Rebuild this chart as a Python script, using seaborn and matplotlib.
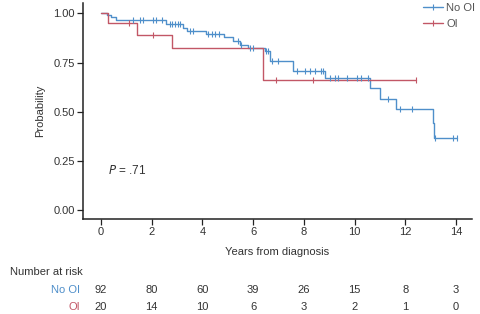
import numpy as np
import pandas as pd
import matplotlib
matplotlib.use("Agg")
import matplotlib.pyplot as plt
import seaborn as sns
from matplotlib.lines import Line2D
from matplotlib.transforms import blended_transform_factory

# ---- data ----
no_oi_times = [0, 0.25, 0.4, 0.6, 2.55, 3.25, 3.4, 4.15, 4.85, 5.2, 5.5, 5.8, 6.45, 6.68,
               7.57, 8.83, 10.6, 11.0, 11.65, 13.08, 13.15]
no_oi_surv = [1.00, 0.99, 0.98, 0.965, 0.945, 0.928, 0.912, 0.897, 0.88, 0.858, 0.838, 0.822,
              0.807, 0.758, 0.705, 0.672, 0.62, 0.567, 0.516, 0.44, 0.367]
no_oi_end = 14.02
no_oi_censor = [1.26, 1.54, 1.66, 2.05, 2.17, 2.41, 2.72, 2.80, 2.92, 3.04, 3.12, 3.51, 3.63,
                4.22, 4.38, 4.50, 4.65, 5.40, 5.52, 5.88, 6.0, 6.50, 6.59, 6.74, 6.98, 7.73,
                8.04, 8.24, 8.44, 8.68, 8.75, 9.03, 9.23, 9.35, 9.70, 10.09, 10.25, 10.53,
                11.32, 11.79, 12.26, 13.17, 13.88, 14.02]

oi_times = [0, 0.28, 1.42, 2.8, 6.4]
oi_surv = [1.00, 0.95, 0.892, 0.824, 0.66]
oi_end = 12.42
oi_censor = [1.10, 2.05, 6.9, 8.36, 12.42]

groups = ["No OI", "OI"]
risk_times = [0, 2, 4, 6, 8, 10, 12, 14]
risk_no_oi = [92, 80, 60, 39, 26, 15, 8, 3]
risk_oi = [20, 14, 10, 6, 3, 2, 1, 0]
p_text = "$P$ = .71"

colors = {"No OI": "#4f8fca", "OI": "#c25766"}

# ---- build frames ----
def steps(times, surv, end, name):
    return pd.DataFrame({"time": list(times) + [end], "surv": list(surv) + [surv[-1]], "group": name})

def censor_frame(ct, times, surv, name):
    t = np.array(times)
    s = np.array(surv)
    ys = [s[np.searchsorted(t, c, side="right") - 1] for c in ct]
    return pd.DataFrame({"time": ct, "surv": ys, "group": name})

curves = pd.concat([steps(no_oi_times, no_oi_surv, no_oi_end, "No OI"),
                    steps(oi_times, oi_surv, oi_end, "OI")])
cens = pd.concat([censor_frame(no_oi_censor, no_oi_times, no_oi_surv, "No OI"),
                  censor_frame(oi_censor, oi_times, oi_surv, "OI")])

sns.set_theme(style="ticks")
plt.rcParams["font.family"] = ["Liberation Sans", "DejaVu Sans"]
text_c = "#333333"

fig = plt.figure(figsize=(4.81, 3.14), dpi=100)
ax = fig.add_axes([83 / 481, 95 / 314, (472 - 83) / 481, (311 - 95) / 314])

for g in groups:
    sub = curves[curves.group == g]
    sns.lineplot(data=sub, x="time", y="surv", drawstyle="steps-post", color=colors[g],
                 estimator=None, sort=False, lw=1.0, ax=ax, legend=False)
    csub = cens[cens.group == g]
    sns.scatterplot(data=csub, x="time", y="surv", marker="|", s=22, linewidth=0.8,
                    color=colors[g], ax=ax, legend=False, zorder=3)

ax.set_xlim(-0.71, 14.63)
ax.set_ylim(-0.046, 1.053)
ax.set_xticks(risk_times)
ax.set_yticks([0, 0.25, 0.5, 0.75, 1.0])
ax.set_yticklabels(["0.00", "0.25", "0.50", "0.75", "1.00"])
ax.tick_params(axis="both", labelsize=8, length=4, width=0.9, colors="#222222",
               labelcolor=text_c, pad=2)
for sp in ["left", "bottom"]:
    ax.spines[sp].set_linewidth(1.1)
    ax.spines[sp].set_color("#222222")
sns.despine(ax=ax)
ax.set_xlabel("Years from diagnosis", fontsize=8, color=text_c, labelpad=7)
ax.set_ylabel("Probability", fontsize=8, color=text_c, labelpad=6)

ax.text(0.28, 0.203, p_text, fontsize=8.5, color=text_c, va="center", ha="left")

handles = [Line2D([0], [0], color=colors[g], lw=1.0, marker="|", markersize=5,
                  markeredgewidth=0.8) for g in groups]
leg = ax.legend(handles, groups, loc="upper right", bbox_to_anchor=(1.02, 1.02), frameon=False,
                fontsize=8, handlelength=1.8, handletextpad=0.3, labelspacing=0.5,
                borderaxespad=0.0)
for t in leg.get_texts():
    t.set_color("#555555")

tr = blended_transform_factory(ax.transData, fig.transFigure)
fig.text(10 / 481, 1 - 272 / 314, "Number at risk", fontsize=8, color=text_c, va="center", ha="left")
fig.text(80 / 481, 1 - 290 / 314, "No OI", fontsize=8, color=colors["No OI"], va="center", ha="right")
fig.text(80 / 481, 1 - 307 / 314, "OI", fontsize=8, color=colors["OI"], va="center", ha="right")
for t, a, b in zip(risk_times, risk_no_oi, risk_oi):
    ax.text(t, 1 - 290 / 314, str(a), transform=tr, fontsize=8, color=text_c, ha="center", va="center")
    ax.text(t, 1 - 307 / 314, str(b), transform=tr, fontsize=8, color=text_c, ha="center", va="center")

fig.savefig("out.png", dpi=100)
